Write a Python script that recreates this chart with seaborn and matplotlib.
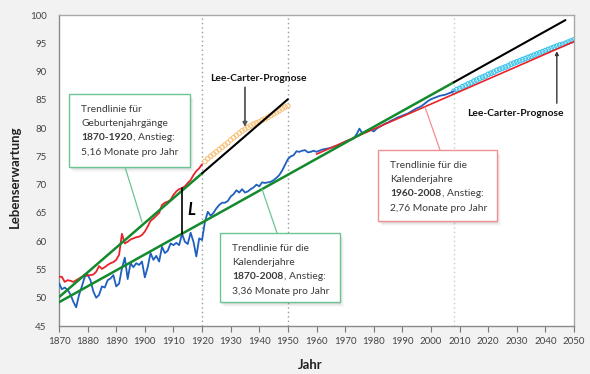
import matplotlib
matplotlib.use("Agg")
import matplotlib.pyplot as plt
import seaborn as sns
import pandas as pd
from matplotlib.patches import Rectangle
from matplotlib.lines import Line2D

# ---------------- data ----------------
years_cal = list(range(1870, 2009))
le_calendar = [
    52.6, 51.5, 51.8, 51.4, 50.6, 49.3, 48.3, 50.5, 52.0, 53.7,   # 1870-1879
    54.1, 53.1, 51.1, 50.0, 50.5, 52.0, 51.8, 53.1, 53.4, 54.0,   # 1880-1889
    52.0, 52.5, 55.2, 57.1, 53.3, 56.1, 55.4, 56.1, 55.8, 56.4,   # 1890-1899
    53.6, 55.4, 57.9, 56.7, 57.4, 56.4, 59.0, 57.9, 58.3, 59.6,   # 1900-1909
    59.3, 59.7, 59.3, 61.3, 59.9, 59.5, 61.5, 59.9, 57.3, 60.5,   # 1910-1919
    60.2, 63.4, 65.2, 64.5, 65.0, 65.8, 66.4, 66.8, 66.8, 67.1,   # 1920-1929
    67.9, 68.3, 69.0, 68.6, 69.2, 68.6, 68.8, 69.2, 69.5, 70.0,   # 1930-1939
    69.7, 70.4, 70.3, 70.4, 70.5, 70.8, 71.2, 71.7, 72.5, 73.5,   # 1940-1949
    74.5, 75.0, 75.2, 75.9, 75.8, 76.0, 76.1, 75.7, 75.8, 76.0,   # 1950-1959
    75.8, 76.0, 76.2, 76.3, 76.4, 76.5, 76.7, 76.8, 77.0, 77.3,   # 1960-1969
    77.6, 77.8, 78.0, 78.2, 78.9, 79.9, 79.1, 79.3, 79.5, 79.7,   # 1970-1979
    79.4, 79.9, 80.2, 80.5, 80.8, 81.0, 81.3, 81.5, 81.8, 82.0,   # 1980-1989
    82.2, 82.4, 82.6, 82.9, 83.2, 83.5, 83.7, 84.0, 84.4, 84.8,   # 1990-1999
    85.1, 85.3, 85.5, 85.7, 85.8, 85.9, 86.1, 86.3, 86.5,         # 2000-2008
]
years_coh = list(range(1870, 1921))
le_cohort = [
    53.7, 53.7, 52.8, 53.1, 53.0, 52.8, 53.1, 53.4, 53.7, 54.1,
    53.9, 54.0, 54.1, 54.6, 55.6, 55.1, 55.4, 55.8, 56.1, 56.3,
    56.7, 57.6, 61.3, 59.6, 59.9, 60.3, 60.5, 60.7, 60.8, 61.1,
    61.7, 62.6, 63.6, 64.0, 64.5, 65.0, 66.4, 66.8, 67.0, 67.3,
    68.2, 68.8, 69.2, 69.4, 69.7, 70.3, 70.8, 71.7, 72.4, 72.9,
    73.6,
]
years_lc_coh = list(range(1921, 1951))
lc_cohort = [
    74.1, 74.6, 75.0, 75.4, 75.8, 76.2, 76.6, 77.0, 77.4, 77.9,
    78.3, 78.7, 79.1, 79.5, 79.8, 80.1, 80.4, 80.7, 80.9, 81.1,
    81.4, 81.6, 81.9, 82.2, 82.5, 82.8, 83.1, 83.4, 83.7, 83.9,
]
years_lc_cal = list(range(2008, 2051))
lc_calendar = [
    86.5, 86.8, 87.0, 87.3, 87.5, 87.8, 88.0, 88.3, 88.5, 88.8,
    89.0, 89.2, 89.5, 89.7, 89.9, 90.2, 90.4, 90.6, 90.8, 91.0,
    91.3, 91.5, 91.7, 91.9, 92.1, 92.3, 92.5, 92.7, 92.9, 93.1,
    93.3, 93.5, 93.7, 93.9, 94.1, 94.3, 94.5, 94.7, 94.8, 95.0,
    95.2, 95.4, 95.6,
]
trend_coh_years, trend_coh_vals = [1870, 1920], [50.1, 72.0]
ext_coh_years, ext_coh_vals = [1920, 1950], [72.0, 85.1]
trend_cal_years, trend_cal_vals = [1870, 2008], [49.2, 88.1]
ext_cal_years, ext_cal_vals = [2008, 2047], [88.1, 99.1]
trend_recent_years, trend_recent_vals = [1960, 2050], [75.4, 95.3]

x_ticks = list(range(1870, 2051, 10))
y_ticks = list(range(45, 101, 5))

# ---------------- style ----------------
sns.set_theme(style="white")
plt.rcParams["font.family"] = ["Lato", "DejaVu Sans"]

W, H = 590, 374
fig = plt.figure(figsize=(W / 100, H / 100), dpi=100, facecolor="#f2f2f2")
ax = fig.add_axes([59 / W, 1 - 326 / H, (574 - 59) / W, (326 - 15) / H])
ax.set_facecolor("white")

BLUE = "#1f5fbf"
RED = "#e8232b"
GREEN = "#138a2c"
TXT = "#3a3a3a"

# vertical dotted lines
ax.axvline(1920, color="#9a9a9a", lw=1.0, ls=(0, (1, 2.2)), zorder=1)
ax.axvline(1950, color="#9a9a9a", lw=1.0, ls=(0, (1, 2.2)), zorder=1)
ax.axvline(2008, color="#c8c8c8", lw=1.0, ls=(0, (1, 2.2)), zorder=1)

# forecasts (open circles)
sns.scatterplot(x=years_lc_coh, y=lc_cohort, ax=ax, marker="o", s=11,
                facecolors="none", edgecolors="#f7c37f", linewidth=0.8, zorder=3)
ax.collections[-1].set_facecolor("none")
sns.scatterplot(x=years_lc_cal, y=lc_calendar, ax=ax, marker="o", s=11,
                facecolors="none", edgecolors="#3cc3ea", linewidth=0.8, zorder=3)
ax.collections[-1].set_facecolor("none")

# data series
sns.lineplot(x=years_cal, y=le_calendar, ax=ax, color=BLUE, lw=1.3, zorder=4)
sns.lineplot(x=years_coh, y=le_cohort, ax=ax, color=RED, lw=1.3, zorder=4)

# trend lines
sns.lineplot(x=trend_recent_years, y=trend_recent_vals, ax=ax, color=RED, lw=1.2, zorder=5)
sns.lineplot(x=trend_coh_years, y=trend_coh_vals, ax=ax, color=GREEN, lw=1.8, zorder=5)
sns.lineplot(x=trend_cal_years, y=trend_cal_vals, ax=ax, color=GREEN, lw=1.8, zorder=5)
sns.lineplot(x=ext_coh_years, y=ext_coh_vals, ax=ax, color="black", lw=1.5, zorder=5)
sns.lineplot(x=ext_cal_years, y=ext_cal_vals, ax=ax, color="black", lw=1.5, zorder=5)

# "L" gap marker at 1913
yr_L = 1913
top_L = le_cohort[years_coh.index(yr_L)]
bot_L = le_calendar[years_cal.index(yr_L)]
ax.plot([yr_L, yr_L], [bot_L, top_L], color="black", lw=1.2, zorder=6)
ax.text(1916.3, 65.6, "L", fontsize=12, fontweight="bold", fontstyle="italic",
        ha="center", va="center", color="black", zorder=6)

# axes
ax.set_xlim(1870, 2050)
ax.set_ylim(45, 100)
ax.set_xticks(x_ticks)
ax.set_yticks(y_ticks)
ax.tick_params(axis="x", direction="out", length=4, width=0.8, color="#777777",
               labelsize=7, labelcolor="#444444", pad=4, bottom=True)
ax.tick_params(axis="y", length=0, labelsize=7, labelcolor="#444444", pad=9)
for side in ["left", "bottom"]:
    ax.spines[side].set_color("#8a8a8a")
    ax.spines[side].set_linewidth(1.0)
for side in ["top", "right"]:
    ax.spines[side].set_color("#a8a8a8")
    ax.spines[side].set_linewidth(1.0)
ax.set_xlabel("Jahr", fontsize=9.5, fontweight="bold", color="#222222")
ax.set_ylabel("Lebenserwartung", fontsize=9.5, fontweight="bold", color="#222222")
ax.xaxis.set_label_coords((310 - 59) / (574 - 59), -(359 - 326) / (326 - 15))
ax.yaxis.set_label_coords(-(59 - 21) / (574 - 59), (326 - 177) / (326 - 15))

# ---------------- annotations ----------------
def fx(x):
    return x / W

def fy(y):
    return 1 - y / H

def text_box(x0, y0, x1, y1, ec, lines, conn):
    tf = fig.transFigure
    for d, a in [(5, 0.025), (4, 0.03), (3, 0.04), (2, 0.05)]:
        ax.add_patch(Rectangle((fx(x0 + d - 1), fy(y1 + d)), (x1 - x0) / W, (y1 - y0) / H,
                               transform=tf, fc="black", ec="none", alpha=a,
                               zorder=8, clip_on=False))
    ax.add_line(Line2D([fx(conn[0]), fx(conn[2])], [fy(conn[1]), fy(conn[3])],
                       transform=tf, color=ec, lw=0.9, zorder=8, clip_on=False))
    ax.add_patch(Rectangle((fx(x0), fy(y1)), (x1 - x0) / W, (y1 - y0) / H,
                           transform=tf, fc="white", ec=ec, lw=1.0, zorder=9, clip_on=False))
    tx = x0 + 12.5
    ty = y0 + 15.5
    for i, segs in enumerate(lines):
        prev = None
        for txt, wt in segs:
            if prev is None:
                prev = ax.text(fx(tx), fy(ty + i * 14.2), txt, transform=tf, fontsize=7.4,
                               fontweight=wt, color=TXT, ha="left", va="center",
                               zorder=10, clip_on=False)
            else:
                prev = ax.annotate(txt, xy=(1, 0), xycoords=prev, fontsize=7.4,
                                   fontweight=wt, color=TXT, ha="left", va="bottom",
                                   zorder=10, annotation_clip=False)

text_box(69, 94, 190, 167, "#6cc494",
         [[("Trendlinie für", "normal")],
          [("Geburtenjahrgänge", "normal")],
          [("1870-1920", "bold"), (", Anstieg:", "normal")],
          [("5,16 Monate pro Jahr", "normal")]],
         (125, 167, 142, 222))
text_box(220, 233, 340, 302, "#6cc494",
         [[("Trendlinie für die", "normal")],
          [("Kalenderjahre", "normal")],
          [("1870-2008", "bold"), (", Anstieg:", "normal")],
          [("3,36 Monate pro Jahr", "normal")]],
         (277, 233, 262, 189))
text_box(378, 150, 497, 221, "#f08f8f",
         [[("Trendlinie für die", "normal")],
          [("Kalenderjahre", "normal")],
          [("1960-2008", "bold"), (", Anstieg:", "normal")],
          [("2,76 Monate pro Jahr", "normal")]],
         (440, 150, 425, 107))

# Lee-Carter labels with arrows
ax.text(1939.6, 88.7, "Lee-Carter-Prognose", fontsize=7.4, fontweight="bold",
        color="#111111", ha="center", va="center", zorder=7)
ax.annotate("", xy=(1935, 80.2), xytext=(1935, 87.2),
            arrowprops=dict(arrowstyle="-|>", color="#555555", lw=1.3,
                            mutation_scale=6, shrinkA=0, shrinkB=0), zorder=7)
ax.text(2029.6, 82.5, "Lee-Carter-Prognose", fontsize=7.4, fontweight="bold",
        color="#111111", ha="center", va="center", zorder=7)
ax.annotate("", xy=(2044.0, 93.6), xytext=(2044.0, 84.4),
            arrowprops=dict(arrowstyle="-|>", color="#333333", lw=1.0,
                            mutation_scale=5, shrinkA=0, shrinkB=0), zorder=7)

fig.savefig("out.png", dpi=100, facecolor=fig.get_facecolor())
